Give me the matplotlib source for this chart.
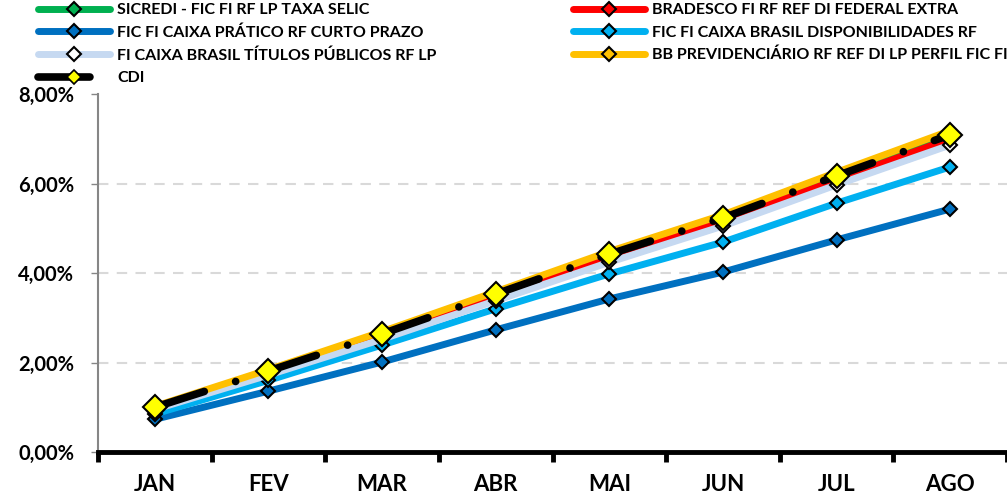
import numpy as np
import matplotlib.pyplot as plt
from matplotlib.lines import Line2D
from matplotlib.ticker import FuncFormatter

plt.rcParams['font.family'] = ['Lato', 'DejaVu Sans']
plt.rcParams['font.weight'] = 'bold'

meses = ["JAN", "FEV", "MAR", "ABR", "MAI", "JUN", "JUL", "AGO"]

# rentabilidade acumulada (%)
sicredi = [0.99, 1.79, 2.63, 3.50, 4.39, 5.20, 6.13, 7.05]
bradesco = [0.98, 1.77, 2.60, 3.47, 4.35, 5.16, 6.08, 7.00]
caixa_pratico = [0.73, 1.36, 2.01, 2.73, 3.42, 4.02, 4.74, 5.43]
caixa_disp = [0.85, 1.60, 2.39, 3.20, 3.98, 4.69, 5.56, 6.37]
caixa_titulos = [0.95, 1.72, 2.52, 3.38, 4.24, 5.05, 5.97, 6.86]
bb_prev = [1.02, 1.84, 2.69, 3.58, 4.48, 5.30, 6.25, 7.18]
cdi = [1.00, 1.81, 2.64, 3.53, 4.42, 5.23, 6.17, 7.09]

nomes = [
    "SICREDI - FIC FI RF LP TAXA SELIC",
    "BRADESCO FI RF REF DI FEDERAL EXTRA",
    "FIC FI CAIXA PRÁTICO RF CURTO PRAZO",
    "FIC FI CAIXA BRASIL DISPONIBILIDADES RF",
    "FI CAIXA BRASIL TÍTULOS PÚBLICOS RF LP",
    "BB PREVIDENCIÁRIO RF REF DI LP PERFIL FIC FI",
    "CDI",
]

W, H = 1007, 496
fig = plt.figure(figsize=(W / 100, H / 100), dpi=100)
ax = fig.add_axes([98 / W, (H - 452) / H, (W - 98) / W, (452 - 94) / H])

x = np.arange(len(meses))
series = [
    (sicredi, "#00B050", "#00B050"),
    (bradesco, "#FF0000", "#FF0000"),
    (caixa_pratico, "#0070C0", "#0070C0"),
    (caixa_disp, "#00B0F0", "#00B0F0"),
    (caixa_titulos, "#C6D9F1", "white"),
    (bb_prev, "#FFC000", "#FFC000"),
]
cdi_dash = (0, (6.8, 4.3, 0.01, 4.3))
handles = {}
for (vals, cor, face), nome in zip(series, nomes):
    ax.plot(x, vals, color=cor, lw=5, marker="D", ms=7,
            mfc=face, mec="black", mew=1.5, solid_capstyle="round")
    handles[nome] = Line2D([], [], color=cor, lw=5, marker="D", ms=7,
                           mfc=face, mec="black", mew=1.5,
                           solid_capstyle="round")

ax.plot(x, cdi, color="black", lw=5.5, marker="D", ms=12.5,
        mfc="#FFFF00", mec="black", mew=1.5,
        linestyle=cdi_dash, dash_capstyle="round")
handles["CDI"] = Line2D([], [], color="black", lw=5.5, marker="D", ms=7,
                        mfc="#FFFF00", mec="black", mew=1.2,
                        linestyle=cdi_dash, dash_capstyle="round")

ax.set_xlim(-0.5, -0.5 + (W - 98) / 115)
ax.set_ylim(0, 8)
ax.set_yticks([0, 2, 4, 6, 8])
ax.yaxis.set_major_formatter(FuncFormatter(lambda v, p: f"{v:.2f}%".replace(".", ",")))
ax.yaxis.grid(True, color="#D9D9D9", lw=1.5, linestyle=(0, (5, 4)))
ax.get_ygridlines()[-1].set_visible(False)
ax.set_axisbelow(True)

ax.set_xticks(x)
ax.set_xticklabels(meses)
ax.set_xticks(np.arange(-0.5, 8, 1), minor=True)
ax.tick_params(axis="x", which="major", length=0, pad=16, labelsize=16)
ax.tick_params(axis="x", which="minor", length=7, width=3.5, color="black")
ax.tick_params(axis="y", length=5, width=1, color="#868686", pad=12, labelsize=14.5)

for s in ("top", "right"):
    ax.spines[s].set_visible(False)
ax.spines["left"].set_color("#868686")
ax.spines["left"].set_linewidth(1.5)
ax.spines["bottom"].set_color("black")
ax.spines["bottom"].set_linewidth(3.5)

leg_kw = dict(loc="upper left", frameon=False, fontsize=11.5, handlelength=4.5,
              handletextpad=0.45, labelspacing=0.52, borderpad=0, borderaxespad=0,
              numpoints=1)
col1 = [nomes[0], nomes[2], nomes[4], nomes[6]]
col2 = [nomes[1], nomes[3], nomes[5]]
fig.legend([handles[n] for n in col1], col1,
           bbox_to_anchor=(38 / W, 1 - 3 / H), **leg_kw)
fig.legend([handles[n] for n in col2], col2,
           bbox_to_anchor=(573 / W, 1 - 3 / H), **leg_kw)

fig.savefig("out.png", dpi=100)
